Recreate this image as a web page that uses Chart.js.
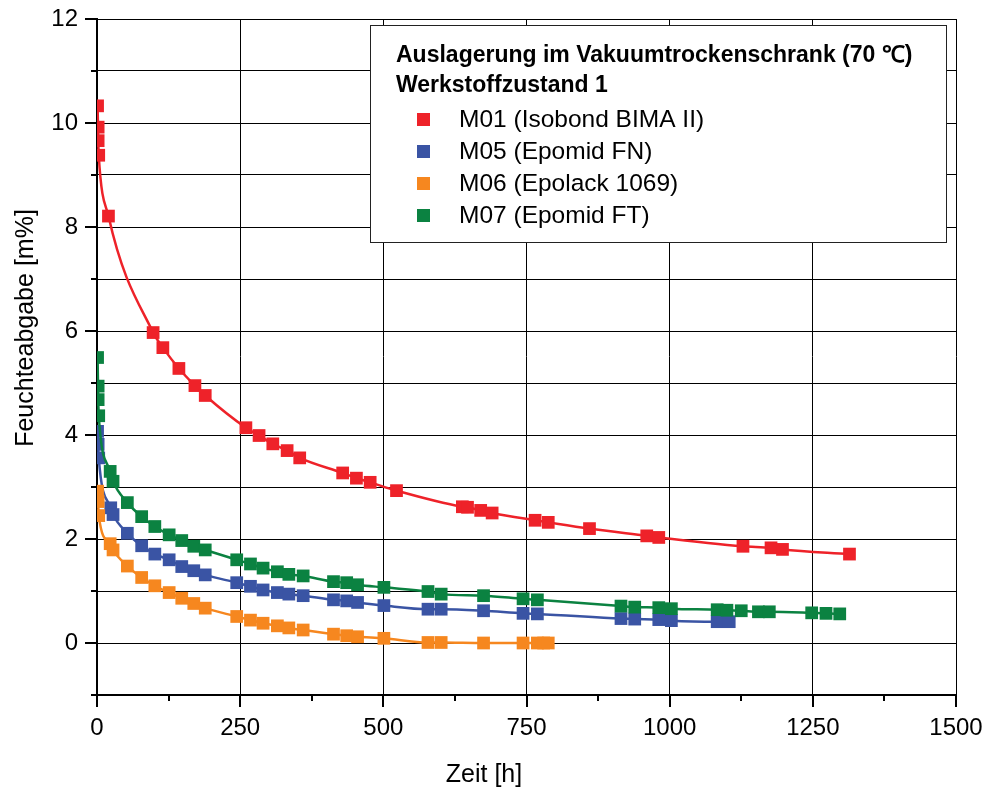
<!DOCTYPE html>
<html>
<head>
<meta charset="utf-8">
<script src="https://cdn.jsdelivr.net/npm/chart.js@4"></script>
<style>
  html, body { margin: 0; padding: 0; background: #fff; overflow: hidden; }
  canvas { display: block; }
</style>
</head>
<body>
<canvas id="chart" width="985" height="787"></canvas>
<script>
// Feuchteabgabe [m%] over Zeit [h]
const m01Label = "M01 (Isobond BIMA II)";
const m01Time = [1, 2, 2, 3, 20, 98, 115, 143, 171, 189, 260, 283, 307, 332, 354, 429, 453, 477, 523, 638, 647, 670, 690, 765, 788, 860, 960, 981, 1128, 1177, 1197, 1314];
const m01Loss = [10.33, 9.92, 9.66, 9.38, 8.21, 5.97, 5.68, 5.28, 4.95, 4.76, 4.14, 3.99, 3.83, 3.70, 3.56, 3.27, 3.17, 3.09, 2.93, 2.62, 2.61, 2.55, 2.50, 2.36, 2.32, 2.20, 2.06, 2.03, 1.86, 1.83, 1.80, 1.71];

const m05Label = "M05 (Epomid FN)";
const m05Time = [1, 2, 3, 24, 28, 53, 78, 101, 126, 148, 169, 189, 244, 268, 290, 315, 335, 360, 413, 436, 455, 501, 578, 601, 675, 744, 769, 915, 939, 981, 1003, 1083, 1104];
const m05Loss = [4.07, 3.82, 3.56, 2.60, 2.47, 2.11, 1.87, 1.71, 1.60, 1.47, 1.39, 1.31, 1.16, 1.09, 1.02, 0.97, 0.94, 0.91, 0.83, 0.81, 0.78, 0.72, 0.65, 0.65, 0.62, 0.57, 0.56, 0.47, 0.46, 0.45, 0.43, 0.41, 0.41];

const m06Label = "M06 (Epolack 1069)";
const m06Time = [1, 2, 3, 23, 28, 53, 78, 101, 126, 148, 169, 189, 244, 268, 290, 315, 335, 360, 413, 436, 455, 501, 578, 601, 675, 744, 769, 780, 788];
const m06Loss = [2.92, 2.72, 2.45, 1.91, 1.79, 1.48, 1.26, 1.10, 0.97, 0.86, 0.76, 0.67, 0.51, 0.44, 0.38, 0.33, 0.29, 0.25, 0.17, 0.14, 0.12, 0.09, 0.01, 0.01, 0.0, 0.0, 0.0, 0.0, 0.0];

const m07Label = "M07 (Epomid FT)";
const m07Time = [1, 2, 2, 3, 23, 28, 53, 78, 101, 126, 148, 169, 189, 244, 268, 290, 315, 335, 360, 413, 436, 455, 501, 578, 601, 675, 744, 769, 915, 939, 981, 1003, 1083, 1100, 1125, 1155, 1174, 1248, 1273, 1297];
const m07Loss = [5.49, 4.94, 4.68, 4.37, 3.30, 3.11, 2.70, 2.43, 2.24, 2.08, 1.97, 1.86, 1.79, 1.60, 1.52, 1.44, 1.37, 1.32, 1.29, 1.18, 1.16, 1.12, 1.07, 0.99, 0.94, 0.91, 0.85, 0.83, 0.71, 0.69, 0.68, 0.66, 0.64, 0.63, 0.62, 0.60, 0.60, 0.58, 0.57, 0.56];

const legendTitle = ["Auslagerung im Vakuumtrockenschrank (70 \u2103)", "Werkstoffzustand 1"];
const xTitle = "Zeit [h]";
const yTitle = "Feuchteabgabe [m%]";

const FONT = "'Liberation Sans', Arial, Helvetica, sans-serif";
Chart.defaults.font.family = FONT;
Chart.defaults.color = "#000";

function toPoints(xs, ys) {
    return xs.map((x, i) => ({ x: x, y: ys[i] }));
}

function makeDataset(label, xs, ys, color, order) {
    return {
        label: label,
        data: toPoints(xs, ys),
        borderColor: color,
        backgroundColor: color,
        borderWidth: 2.5,
        pointStyle: "rect",
        pointRadius: 9,
        pointHoverRadius: 9,
        pointBorderWidth: 0,
        pointBackgroundColor: color,
        cubicInterpolationMode: "monotone",
        clip: 0,
        order: order,
    };
}

// tick marks, axis titles and the boxed legend
const decorations = {
    id: "decorations",
    afterDraw(chart) {
        const ctx = chart.ctx;
        const xs = chart.scales.x;
        const ys = chart.scales.y;
        const area = chart.chartArea;
        ctx.save();
        ctx.strokeStyle = "#000";
        ctx.lineWidth = 2;
        ctx.beginPath();
        for (let v = -1; v <= 12; v++) {
            const py = Math.round(ys.getPixelForValue(v));
            const len = v % 2 === 0 ? 12 : 6;
            ctx.moveTo(area.left - len, py);
            ctx.lineTo(area.left, py);
        }
        for (let v = 0; v <= 1500; v += 125) {
            const px = Math.round(xs.getPixelForValue(v));
            const len = v % 250 === 0 ? 12 : 6;
            ctx.moveTo(px, area.bottom);
            ctx.lineTo(px, area.bottom + len);
        }
        ctx.stroke();

        ctx.fillStyle = "#000";
        ctx.font = "25px " + FONT;
        ctx.textAlign = "center";
        ctx.textBaseline = "alphabetic";
        ctx.fillText(xTitle, 484, 782);
        ctx.save();
        ctx.translate(33, 328);
        ctx.rotate(-Math.PI / 2);
        ctx.fillText(yTitle, 0, 0);
        ctx.restore();

        // legend box
        ctx.fillStyle = "#fff";
        ctx.fillRect(370, 25, 576, 217);
        ctx.strokeStyle = "#222";
        ctx.lineWidth = 1;
        ctx.strokeRect(370.5, 25.5, 576, 217);

        ctx.fillStyle = "#000";
        ctx.textAlign = "left";
        ctx.font = "bold 23px " + FONT;
        ctx.fillText(legendTitle[0], 396, 62);
        ctx.fillText(legendTitle[1], 396, 92);

        ctx.font = "24.5px " + FONT;
        chart.data.datasets.forEach((ds, i) => {
            const base = 127 + i * 32;
            ctx.fillStyle = ds.borderColor;
            ctx.fillRect(417, base - 14, 13, 13);
            ctx.fillStyle = "#000";
            ctx.fillText(ds.label, 459, base);
        });
        ctx.restore();
    },
};

const chart = new Chart(document.getElementById("chart"), {
    type: "line",
    data: {
        datasets: [
            makeDataset(m01Label, m01Time, m01Loss, "#ee2229", 4),
            makeDataset(m05Label, m05Time, m05Loss, "#3a54a4", 3),
            makeDataset(m06Label, m06Time, m06Loss, "#f6871f", 2),
            makeDataset(m07Label, m07Time, m07Loss, "#0b8241", 1),
        ],
    },
    options: {
        responsive: false,
        animation: false,
        layout: { padding: { top: 19, right: 29, left: 0, bottom: 0 } },
        plugins: { legend: { display: false }, tooltip: { enabled: false } },
        scales: {
            x: {
                type: "linear",
                min: 0,
                max: 1500,
                afterFit: (s) => {
                    s.height = 92;
                    s.paddingLeft = 0;
                    s.paddingRight = 0;
                },
                ticks: {
                    stepSize: 125,
                    autoSkip: false,
                    maxRotation: 0,
                    padding: 19,
                    color: "#000",
                    font: { size: 24 },
                    callback: (v) => (v % 250 === 0 ? String(v) : ""),
                },
                grid: {
                    drawTicks: false,
                    lineWidth: 1,
                    color: (c) => (c.tick && c.tick.value % 250 === 0 ? "#000" : "rgba(0,0,0,0)"),
                },
                border: { color: "#000", width: 2 },
            },
            y: {
                min: -1,
                max: 12,
                afterFit: (s) => {
                    s.width = 97;
                    s.paddingTop = 0;
                    s.paddingBottom = 0;
                },
                ticks: {
                    stepSize: 1,
                    autoSkip: false,
                    padding: 19,
                    color: "#000",
                    font: { size: 24 },
                    callback: (v) => (v % 2 === 0 ? String(v) : ""),
                },
                grid: { drawTicks: false, lineWidth: 1, color: "#000" },
                border: { color: "#000", width: 2 },
            },
        },
    },
    plugins: [decorations],
});
</script>
</body>
</html>
